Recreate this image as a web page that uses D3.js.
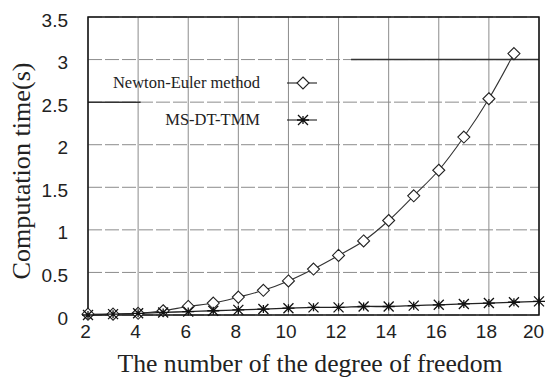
<!DOCTYPE html>
<html>
<head>
<meta charset="utf-8">
<script src="https://cdn.jsdelivr.net/npm/d3@7"></script>
<style>
  body { margin: 0; background: #fff; }
  svg { display: block; }
</style>
</head>
<body>
<div id="chart"></div>
<script>
// degree of freedom vs computation time (s)
var neDof = [2, 3, 4, 5, 6, 7, 8, 9, 10, 11, 12, 13, 14, 15, 16, 17, 18, 19];
var neTime = [0.01, 0.01, 0.02, 0.05, 0.10, 0.14, 0.21, 0.29, 0.40, 0.54, 0.70, 0.87, 1.11, 1.40, 1.70, 2.09, 2.54, 3.07];
var msDof = [2, 3, 4, 5, 6, 7, 8, 9, 10, 11, 12, 13, 14, 15, 16, 17, 18, 19, 20];
var msTime = [0.00, 0.01, 0.02, 0.03, 0.04, 0.05, 0.06, 0.07, 0.08, 0.09, 0.09, 0.10, 0.10, 0.11, 0.12, 0.13, 0.14, 0.15, 0.16];
var xTicks = [2, 4, 6, 8, 10, 12, 14, 16, 18, 20];
var yTicks = [0, 0.5, 1, 1.5, 2, 2.5, 3, 3.5];
var seriesNames = ['Newton-Euler method', 'MS-DT-TMM'];

var W = 545, H = 378;
var margin = { top: 17, right: 6, bottom: 63, left: 88 },
    width = W - margin.left - margin.right,
    height = H - margin.top - margin.bottom;

var svg = d3.select('#chart').append('svg')
    .attr('width', W)
    .attr('height', H);

var g = svg.append('g')
    .attr('transform', 'translate(' + margin.left + ',' + margin.top + ')');

var x = d3.scaleLinear().domain([2, 20]).range([0, width]);
var y = d3.scaleLinear().domain([0, 3.5]).range([height, 0]);

// grid
g.selectAll('.vgrid').data(xTicks).enter().append('line')
    .attr('x1', d => x(d)).attr('x2', d => x(d))
    .attr('y1', 0).attr('y2', height)
    .attr('stroke', '#8c8c8c').attr('stroke-width', 1);
g.selectAll('.hgrid').data(yTicks).enter().append('line')
    .attr('x1', 0).attr('x2', width)
    .attr('y1', d => y(d)).attr('y2', d => y(d))
    .attr('stroke', '#8c8c8c').attr('stroke-width', 1)
    .attr('stroke-dasharray', '14,3');

// darker leftover segments around the legend
g.append('line')
    .attr('x1', x(12.5)).attr('x2', width)
    .attr('y1', y(3)).attr('y2', y(3))
    .attr('stroke', '#333').attr('stroke-width', 1.5);
g.append('line')
    .attr('x1', 0).attr('x2', x(4.1))
    .attr('y1', y(2.5)).attr('y2', y(2.5))
    .attr('stroke', '#333').attr('stroke-width', 1.5);

// axes (labels only, frame drawn separately)
var xAxis = g.append('g')
    .attr('transform', 'translate(-3,' + height + ')')
    .call(d3.axisBottom(x).tickValues(xTicks).tickSize(0).tickPadding(10).tickFormat(d3.format('d')));
xAxis.select('.domain').remove();
xAxis.selectAll('text')
    .attr('font-family', 'Liberation Sans, Arial, sans-serif')
    .attr('font-size', 19).attr('fill', '#222')
    .attr('dx', d => d === 20 ? -3 : 0);

var yAxis = g.append('g')
    .attr('transform', 'translate(-20,3)')
    .call(d3.axisLeft(y).tickValues(yTicks).tickSize(0).tickPadding(0).tickFormat(d => d));
yAxis.select('.domain').remove();
yAxis.selectAll('text')
    .attr('font-family', 'Liberation Sans, Arial, sans-serif')
    .attr('font-size', 19).attr('fill', '#222');

// frame
g.append('rect')
    .attr('x', 0).attr('y', 0)
    .attr('width', width).attr('height', height)
    .attr('fill', 'none').attr('stroke', '#111').attr('stroke-width', 1.5);

// lines
var line = d3.line()
    .x(d => x(d[0])).y(d => y(d[1]))
    .curve(d3.curveCatmullRom);

var neData = neDof.map((d, i) => [d, neTime[i]]);
var msData = msDof.map((d, i) => [d, msTime[i]]);

g.append('path').datum(neData)
    .attr('d', line).attr('fill', 'none')
    .attr('stroke', '#333').attr('stroke-width', 1.1);
g.append('path').datum(msData)
    .attr('d', line).attr('fill', 'none')
    .attr('stroke', '#222').attr('stroke-width', 1.3);

function diamond(sel) {
    sel.append('path')
        .attr('d', 'M0,-6L6,0L0,6L-6,0Z')
        .attr('fill', '#fff').attr('stroke', '#222').attr('stroke-width', 1.1);
}
function star(sel) {
    sel.append('path')
        .attr('d', 'M-6,0L6,0M-5,-5L5,5M-5,5L5,-5M0,-4L0,4')
        .attr('fill', 'none').attr('stroke', '#111').attr('stroke-width', 1.3);
}

g.selectAll('.ne').data(neData).enter().append('g')
    .attr('transform', d => 'translate(' + x(d[0]) + ',' + y(d[1]) + ')')
    .call(diamond);
g.selectAll('.ms').data(msData).enter().append('g')
    .attr('transform', d => 'translate(' + x(d[0]) + ',' + y(d[1]) + ')')
    .call(star);

// legend
var legend = g.selectAll('.legend').data(seriesNames).enter().append('g')
    .attr('transform', (d, i) => 'translate(0,' + (66 + i * 37) + ')');
legend.append('text')
    .attr('x', 172).attr('y', 5)
    .attr('text-anchor', 'end')
    .attr('font-family', 'Liberation Serif, Times New Roman, serif')
    .attr('font-size', 16.5).attr('fill', '#222')
    .text(d => d);
legend.append('line')
    .attr('x1', 199).attr('x2', 229).attr('y1', 0).attr('y2', 0)
    .attr('stroke', '#222').attr('stroke-width', 1.1);
legend.each(function(d, i) {
    var m = d3.select(this).append('g').attr('transform', 'translate(215,0)');
    if (i === 0) diamond(m); else star(m);
});

// titles
svg.append('text')
    .attr('x', 310).attr('y', 372)
    .attr('text-anchor', 'middle')
    .attr('font-family', 'Liberation Serif, Times New Roman, serif')
    .attr('font-size', 25).attr('fill', '#222')
    .attr('textLength', 385).attr('lengthAdjust', 'spacingAndGlyphs')
    .text('The number of the degree of freedom');

svg.append('text')
    .attr('transform', 'translate(30,171) rotate(-90)')
    .attr('text-anchor', 'middle')
    .attr('font-family', 'Liberation Serif, Times New Roman, serif')
    .attr('font-size', 26).attr('fill', '#222')
    .attr('textLength', 217).attr('lengthAdjust', 'spacingAndGlyphs')
    .text('Computation time(s)');
</script>
</body>
</html>
